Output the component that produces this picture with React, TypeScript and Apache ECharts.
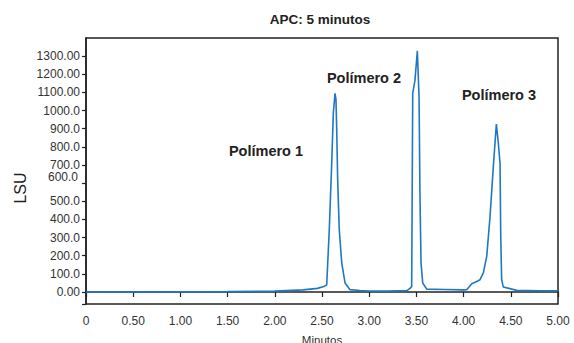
import React, { useEffect, useRef } from "react";
import * as echarts from "echarts";

const titleText = "APC: 5 minutos";
const xAxisName = "Minutos";
const yAxisName = "LSU";

const minutes = [
  0, 0.5, 1.0, 1.5, 2.0, 2.3, 2.45, 2.52, 2.55, 2.577, 2.603, 2.62, 2.638, 2.648, 2.656, 2.666, 2.683,
  2.709, 2.744, 2.797, 2.9, 3.0, 3.2, 3.4, 3.432, 3.45, 3.461, 3.485, 3.51, 3.528, 3.538, 3.549,
  3.567, 3.609, 3.8, 4.0, 4.033, 4.086, 4.139, 4.174, 4.209, 4.245, 4.28, 4.315, 4.347, 4.368,
  4.386, 4.393, 4.403, 4.42, 4.562, 4.8, 5.0,
];
const lsu = [
  0, 0, 1, 2, 5, 12, 20, 30, 40, 343, 711, 987, 1095, 1060, 893, 618, 343,
  161, 50, 13, 8, 6, 5, 8, 20, 30, 1095, 1168, 1329, 1076, 526, 161,
  50, 16, 14, 12, 13, 46, 58, 68, 105, 196, 416, 691, 926, 820,
  710, 325, 68, 28, 9, 7, 7,
];

const yTicks = [-66, 0, 100, 200, 300, 400, 500, 600, 700, 800, 900, 1000, 1100, 1200, 1300];
const yLabelValues = [0, 100, 200, 300, 400, 500, 600, 700, 800, 900, 1000, 1100, 1200, 1300];
const yLabelTexts = [
  "0.00", "100.0", "200.0", "300.0", "400.0", "500.0", "600.0", "700.0", "800.0", "900.0",
  "1000.0", "1100.00", "1200.00", "1300.00",
];
const xLabelValues = [0, 0.5, 1, 1.5, 2, 2.5, 3, 3.5, 4, 4.5, 5];
const xLabelTexts = ["0", "0.50", "1.00", "1.50", "2.00", "2.50", "3.00", "3.50", "4.00", "4.50", "5.00"];

const annotations = [
  { text: "Polímero 1", x: 266, y: 151 },
  { text: "Polímero 2", x: 364, y: 78 },
  { text: "Polímero 3", x: 499, y: 95 },
];

export default function App() {
  const ref = useRef<HTMLDivElement>(null);
  useEffect(() => {
    if (!ref.current) return;
    const chart = echarts.init(ref.current, null, { renderer: "svg" });
    const font = "Liberation Sans, Arial, sans-serif";
    const axisColor = "#222";
    chart.setOption({
      animation: false,
      textStyle: { fontFamily: font },
      grid: {
        left: 86,
        right: 16,
        top: 38,
        bottom: 39,
        containLabel: false,
        outerBoundsMode: "none",
        show: true,
        borderColor: axisColor,
        borderWidth: 1.5,
      },
      xAxis: {
        type: "value",
        min: 0,
        max: 5,
        name: xAxisName,
        nameLocation: "middle",
        nameGap: 30,
        nameTextStyle: { fontSize: 11.5, color: "#333", fontFamily: font },
        axisLine: { show: true, lineStyle: { color: axisColor, width: 1.5 } },
        axisTick: {
          show: true,
          length: 5,
          customValues: xLabelValues,
          lineStyle: { color: axisColor, width: 1.2 },
        },
        axisLabel: {
          customValues: xLabelValues,
          margin: 11,
          fontSize: 12,
          color: "#333",
          fontFamily: font,
          formatter: (v: number) => {
            const i = xLabelValues.findIndex((t) => Math.abs(t - v) < 1e-6);
            return i >= 0 ? xLabelTexts[i] : "";
          },
        },
        splitLine: { show: false },
      },
      yAxis: {
        type: "value",
        min: -66,
        max: 1400,
        axisLine: { show: true, lineStyle: { color: axisColor, width: 1.5 } },
        axisTick: {
          show: true,
          length: 4,
          customValues: yTicks,
          lineStyle: { color: axisColor, width: 1.2 },
        },
        axisLabel: {
          customValues: yLabelValues,
          margin: 6,
          fontSize: 12,
          color: "#333",
          fontFamily: font,
          formatter: (v: number) => {
            const i = yLabelValues.findIndex((t) => Math.abs(t - v) < 1e-6);
            if (i < 0) return "";
            if (v === 600) return "{s|" + yLabelTexts[i] + "}";
            return yLabelTexts[i];
          },
          rich: {
            s: { fontSize: 12, color: "#333", fontFamily: font, padding: [0, 2, 12, 0] },
          },
        },
        splitLine: { show: false },
      },
      graphic: [
        {
          type: "text",
          x: 320,
          y: 19,
          style: {
            text: titleText,
            align: "center",
            verticalAlign: "middle",
            font: "bold 13.5px Liberation Sans, Arial, sans-serif",
            fill: "#222",
          },
        },
        {
          type: "text",
          x: 20,
          y: 188,
          rotation: Math.PI / 2,
          style: {
            text: yAxisName,
            align: "center",
            verticalAlign: "middle",
            font: "16px Liberation Sans, Arial, sans-serif",
            fill: "#222",
          },
        },
        ...annotations.map((a) => ({
          type: "text",
          x: a.x,
          y: a.y,
          style: {
            text: a.text,
            align: "center",
            verticalAlign: "middle",
            font: "bold 14.5px Liberation Sans, Arial, sans-serif",
            fill: "#222",
          },
        })),
      ],
      series: [
        {
          type: "line",
          data: minutes.map((m, i) => [m, lsu[i]]),
          symbol: "none",
          lineStyle: { color: "#1f78c1", width: 1.6 },
          z: 3,
        },
      ],
    });
    return () => chart.dispose();
  }, []);
  return <div ref={ref} style={{ width: 574, height: 343, position: "absolute", left: 0, top: 0 }} />;
}
